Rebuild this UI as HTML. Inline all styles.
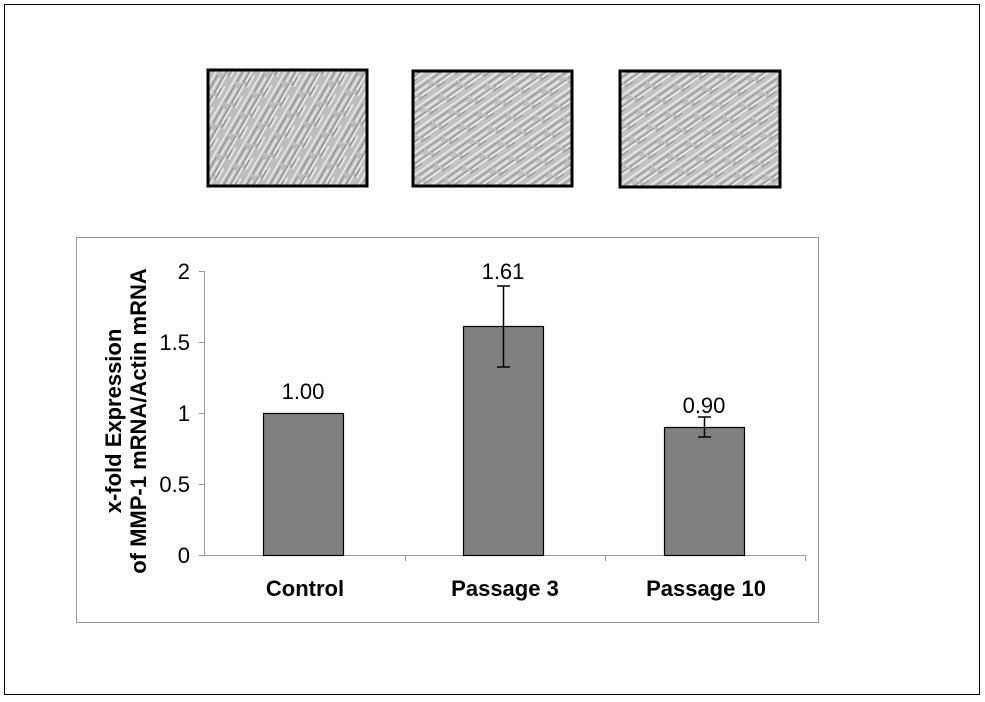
<!DOCTYPE html>
<html><head><style>
html,body{margin:0;padding:0;background:#fff;}
svg{display:block;font-family:"Liberation Sans",Arial,sans-serif;}
</style></head><body>
<svg width="985" height="702" viewBox="0 0 985 702">
<defs>
<pattern id="cells" width="24" height="20" patternUnits="userSpaceOnUse" patternTransform="rotate(-60)">
<rect width="24" height="20" fill="#bdbdbd"/>
<path d="M0 3H24M0 9H18M4 14H24M0 18H14" stroke="#ececec" stroke-width="1.6"/>
<path d="M0 6H20M2 12H24M0 16H10" stroke="#8a8a8a" stroke-width="1"/>
</pattern>
<pattern id="cells2" width="22" height="18" patternUnits="userSpaceOnUse" patternTransform="rotate(-35)">
<rect width="22" height="18" fill="#c2c2c2"/>
<path d="M0 3H22M0 9H16M4 14H22" stroke="#eeeeee" stroke-width="1.6"/>
<path d="M0 6H20M2 12H22M0 16H10" stroke="#8e8e8e" stroke-width="1"/>
</pattern>
</defs>
<rect x="4.5" y="4.5" width="975" height="690" fill="#fff" stroke="#000" stroke-width="1"/>
<rect x="208" y="70" width="159" height="116" fill="url(#cells)" stroke="#000" stroke-width="3"/>
<rect x="413" y="71" width="159" height="115" fill="url(#cells2)" stroke="#000" stroke-width="3"/>
<rect x="620" y="71" width="160" height="116" fill="url(#cells2)" stroke="#000" stroke-width="3"/>
<rect x="76.5" y="237.5" width="742" height="385" fill="#fff" stroke="#999" stroke-width="1"/>
<g stroke="#999" stroke-width="1">
<line x1="204.5" y1="271" x2="204.5" y2="555"/>
<line x1="204" y1="555.5" x2="805" y2="555.5"/>
<line x1="199" y1="271.5" x2="204" y2="271.5"/>
<line x1="199" y1="342.5" x2="204" y2="342.5"/>
<line x1="199" y1="413.5" x2="204" y2="413.5"/>
<line x1="199" y1="484.5" x2="204" y2="484.5"/>
<line x1="199" y1="555.5" x2="204" y2="555.5"/>
<line x1="405.5" y1="555" x2="405.5" y2="561"/>
<line x1="605.5" y1="555" x2="605.5" y2="561"/>
<line x1="805.5" y1="555" x2="805.5" y2="561"/>
</g>
<g font-size="22" text-anchor="end" fill="#000">
<text x="190" y="279">2</text>
<text x="190" y="350">1.5</text>
<text x="190" y="421">1</text>
<text x="190" y="492">0.5</text>
<text x="190" y="563">0</text>
</g>
<g fill="#808080" stroke="#000" stroke-width="1.2">
<rect x="263.5" y="413.5" width="80" height="142"/>
<rect x="463.5" y="326.5" width="80" height="229"/>
<rect x="664.5" y="427.5" width="80" height="128"/>
</g>
<g stroke="#000" stroke-width="1.5">
<line x1="503.5" y1="286" x2="503.5" y2="367"/>
<line x1="497" y1="286" x2="510" y2="286"/>
<line x1="497" y1="367" x2="510" y2="367"/>
<line x1="704.5" y1="417" x2="704.5" y2="437"/>
<line x1="698" y1="417" x2="711" y2="417"/>
<line x1="698" y1="437" x2="711" y2="437"/>
</g>
<g font-size="22" text-anchor="middle" fill="#000">
<text x="303" y="399">1.00</text>
<text x="503" y="279">1.61</text>
<text x="704" y="413">0.90</text>
</g>
<g font-size="22" font-weight="bold" text-anchor="middle" fill="#000">
<text x="305" y="596">Control</text>
<text x="505" y="596">Passage 3</text>
<text x="706" y="596">Passage 10</text>
</g>
<g font-size="22" font-weight="bold" text-anchor="middle" fill="#000">
<text transform="translate(121,421) rotate(-90)">x-fold Expression</text>
<text transform="translate(146,421) rotate(-90)">of MMP-1 mRNA/Actin mRNA</text>
</g>
</svg>
</body></html>
